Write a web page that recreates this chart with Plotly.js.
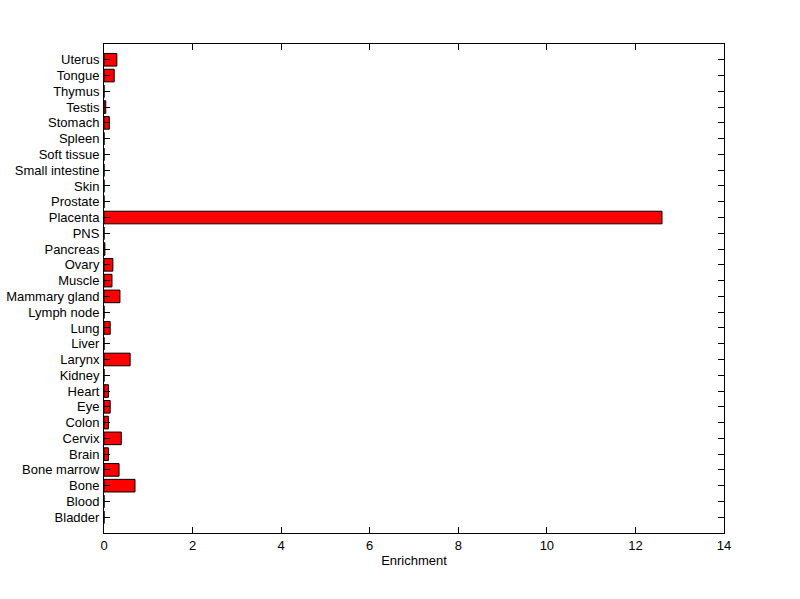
<!DOCTYPE html>
<html>
<head>
<meta charset="utf-8">
<script src="https://cdn.plot.ly/plotly-3.0.1.min.js"></script>
<style>html,body{margin:0;padding:0;background:#fff;}#chart{width:800px;height:599px;}</style>
</head>
<body>
<div id="chart"></div>
<script>
const tissues = ["Bladder","Blood","Bone","Bone marrow","Brain","Cervix","Colon","Eye","Heart","Kidney","Larynx","Liver","Lung","Lymph node","Mammary gland","Muscle","Ovary","Pancreas","PNS","Placenta","Prostate","Skin","Small intestine","Soft tissue","Spleen","Stomach","Testis","Thymus","Tongue","Uterus"];
const enrichment = [0,0,0.70,0.34,0.10,0.39,0.10,0.14,0.10,0,0.59,0,0.14,0,0.36,0.18,0.20,0.02,0,12.6,0,0,0,0,0,0.12,0.04,0,0.23,0.29];
const xTicks = [0,2,4,6,8,10,12,14];

const trace = {
  type: 'bar',
  orientation: 'h',
  y: tissues,
  x: enrichment,
  width: 0.8,
  marker: {color: '#ff0000', line: {color: '#000000', width: 1}},
  hoverinfo: 'x+y'
};

const layout = {
  width: 800, height: 599,
  margin: {l: 104, r: 76, t: 44, b: 66},
  paper_bgcolor: '#ffffff',
  plot_bgcolor: '#ffffff',
  showlegend: false,
  font: {family: 'Liberation Sans, Arial, sans-serif', size: 13, color: '#000'},
  xaxis: {
    range: [0, 14],
    tickmode: 'array',
    tickvals: xTicks,
    ticktext: xTicks.map(String),
    ticks: 'inside', ticklen: 6, tickcolor: '#000', tickwidth: 1,
    showline: true, linecolor: '#000', linewidth: 1, mirror: 'ticks',
    showgrid: false, zeroline: false,
    title: {text: 'Enrichment', font: {size: 13}, standoff: 4},
    tickfont: {size: 13}
  },
  yaxis: {
    type: 'category',
    range: [-1, 30],
    tickmode: 'array',
    tickvals: tissues,
    ticktext: tissues,
    ticks: 'inside', ticklen: 6, tickcolor: '#000', tickwidth: 1,
    showline: true, linecolor: '#000', linewidth: 1, mirror: 'ticks',
    showgrid: false, zeroline: false,
    tickfont: {size: 13},
    ticklabelstandoff: 1,
    automargin: false
  },
  bargap: 0.2
};

Plotly.newPlot('chart', [trace], layout, {displayModeBar: false, staticPlot: true});
</script>
</body>
</html>
